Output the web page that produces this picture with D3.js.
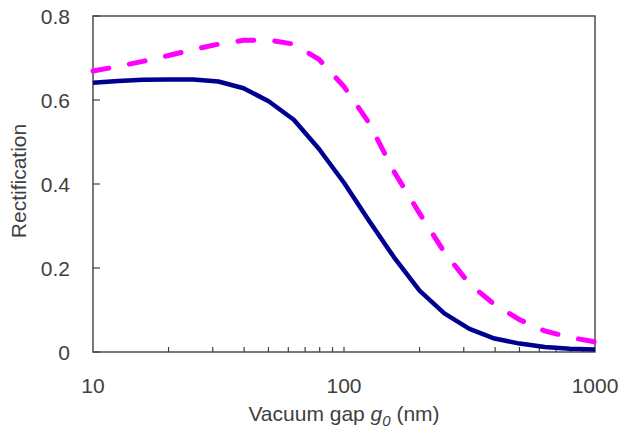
<!DOCTYPE html>
<html>
<head>
<meta charset="utf-8">
<script src="https://cdn.jsdelivr.net/npm/d3@7"></script>
<style>
  body { margin: 0; background: #fff; }
  text { font-family: Arial, "Liberation Sans", sans-serif; fill: #404040; }
</style>
</head>
<body>
<div id="chart"></div>
<script>
// gap values (nm), log spaced
const gaps = [10, 12.6, 15.8, 20, 25.1, 31.6, 39.8, 50.1, 63.1, 79.4, 100,
              126, 158, 200, 251, 316, 398, 501, 631, 794, 1000];
const solidSeries = [0.641, 0.645, 0.648, 0.649, 0.649, 0.644, 0.628, 0.597, 0.553, 0.484, 0.403,
                     0.312, 0.226, 0.146, 0.092, 0.055, 0.032, 0.020, 0.012, 0.008, 0.006];
const dashedSeries = [0.669, 0.680, 0.692, 0.706, 0.720, 0.733, 0.742, 0.743, 0.733, 0.697, 0.632,
                      0.545, 0.430, 0.330, 0.238, 0.162, 0.113, 0.077, 0.050, 0.035, 0.024];
const xTicks = [10, 100, 1000];
const yTicks = [0, 0.2, 0.4, 0.6, 0.8];

const width = 619, height = 429;
const margin = {top: 16, right: 24, bottom: 77, left: 93};
const w = width - margin.left - margin.right;
const h = height - margin.top - margin.bottom;

const svg = d3.select("#chart").append("svg")
    .attr("width", width)
    .attr("height", height);
const g = svg.append("g").attr("transform", `translate(${margin.left},${margin.top})`);

const x = d3.scaleLog().domain([10, 1000]).range([0, w]);
const y = d3.scaleLinear().domain([0, 0.8]).range([h, 0]);

// minor ticks on x (inside, pointing up)
const minor = [];
for (let d = 10; d < 1000; d *= 10) {
    for (let k = 2; k <= 9; k++) minor.push(d * k);
}
minor.push(100);
g.selectAll(".xtick").data(minor).enter().append("line")
    .attr("x1", d => x(d)).attr("x2", d => x(d))
    .attr("y1", h).attr("y2", h - 5)
    .attr("stroke", "#404040").attr("stroke-width", 1.2);

// y ticks inside
g.selectAll(".ytick").data(yTicks).enter().append("line")
    .attr("x1", 0).attr("x2", 7)
    .attr("y1", d => y(d)).attr("y2", d => y(d))
    .attr("stroke", "#404040").attr("stroke-width", 1.2);

// frame
g.append("rect")
    .attr("width", w).attr("height", h)
    .attr("fill", "none")
    .attr("stroke", "#404040").attr("stroke-width", 1.4);

// tick labels
g.selectAll(".ylab").data(yTicks).enter().append("text")
    .attr("x", -23).attr("y", d => y(d))
    .attr("dy", "0.36em")
    .attr("text-anchor", "end")
    .style("font-size", "21px")
    .text(d => d === 0 ? "0" : d.toFixed(1));

g.selectAll(".xlab").data(xTicks).enter().append("text")
    .attr("x", d => x(d)).attr("y", h + 33)
    .attr("dy", "0.36em")
    .attr("text-anchor", "middle")
    .style("font-size", "21px")
    .text(d => d);

// lines
const line = series => d3.line()
    .x((d, i) => x(gaps[i]))
    .y(d => y(d))(series);

g.append("path")
    .attr("d", line(dashedSeries))
    .attr("fill", "none")
    .attr("stroke", "#ff00ff")
    .attr("stroke-width", 5)
    .attr("stroke-linecap", "round")
    .attr("stroke-dasharray", "16,21");

g.append("path")
    .attr("d", line(solidSeries))
    .attr("fill", "none")
    .attr("stroke", "#000090")
    .attr("stroke-width", 4.5)
    .attr("stroke-linejoin", "round");

// axis titles
const xt = g.append("text")
    .attr("x", w / 2).attr("y", h + 61)
    .attr("dy", "0.36em")
    .attr("text-anchor", "middle")
    .style("font-size", "21px");
xt.append("tspan").text("Vacuum gap ");
xt.append("tspan").style("font-style", "italic").text("g");
xt.append("tspan").style("font-style", "italic").style("font-size", "15px").attr("dy", "5").text("0");
xt.append("tspan").attr("dy", "-5").text(" (nm)");

g.append("text")
    .attr("transform", `translate(${18 - margin.left},${h / 2 - 3}) rotate(-90)`)
    .attr("dy", "0.36em")
    .attr("text-anchor", "middle")
    .style("font-size", "21px")
    .text("Rectification");
</script>
</body>
</html>
